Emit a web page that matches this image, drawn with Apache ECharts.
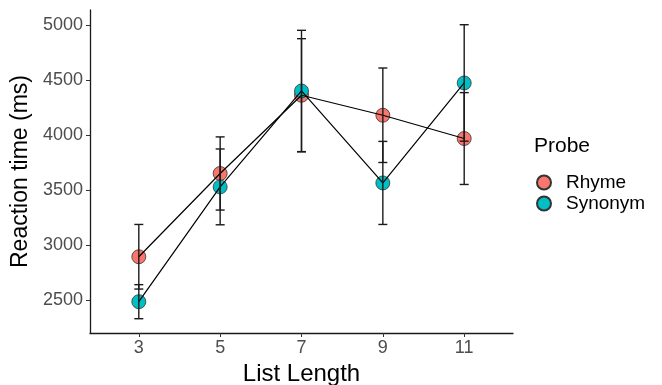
<!DOCTYPE html>
<html>
<head>
<meta charset="utf-8">
<script src="https://cdn.jsdelivr.net/npm/echarts@6/dist/echarts.min.js"></script>
<style>
html,body{margin:0;padding:0;background:#fff;}
#c{width:662px;height:385px;}
</style>
</head>
<body>
<div id="c"></div>
<script>
var listLength = [3, 5, 7, 9, 11];
var yTicks = [2500, 3000, 3500, 4000, 4500, 5000];
var rhymeMean = [2894, 3652, 4364, 4182, 3970];
var rhymeErr = [294, 333, 515, 430, 418];
var synonymMean = [2485, 3530, 4403, 3566, 4476];
var synonymErr = [155, 345, 552, 378, 530];

var FONT = '"Liberation Sans", Arial, sans-serif';
var chart = echarts.init(document.getElementById('c'));

function pts(means) { return listLength.map(function (x, i) { return [x, means[i]]; }); }
function errs(means, e) { return listLength.map(function (x, i) { return [x, means[i] - e[i], means[i] + e[i]]; }); }

function errRender(params, api) {
  var x = api.value(0);
  var lo = api.coord([x, api.value(1)]);
  var hi = api.coord([x, api.value(2)]);
  var hw = 4.5;
  var st = { stroke: '#1a1a1a', lineWidth: 1.4, fill: null };
  return {
    type: 'group',
    children: [
      { type: 'line', shape: { x1: lo[0], y1: lo[1], x2: hi[0], y2: hi[1] }, style: st },
      { type: 'line', shape: { x1: lo[0] - hw, y1: lo[1], x2: lo[0] + hw, y2: lo[1] }, style: st },
      { type: 'line', shape: { x1: hi[0] - hw, y1: hi[1], x2: hi[0] + hw, y2: hi[1] }, style: st }
    ]
  };
}

var option = {
  backgroundColor: '#fff',
  animation: false,
  title: {
    text: 'Probe', left: 534, top: 136, padding: 0,
    textStyle: { fontFamily: FONT, fontSize: 21, fontWeight: 'normal', color: '#000' }
  },
  legend: {
    data: ['Rhyme', 'Synonym'], orient: 'vertical', left: 536, top: 173, padding: 0,
    itemWidth: 14, itemHeight: 14, itemGap: 2, icon: 'circle',
    textStyle: { fontFamily: FONT, fontSize: 19, color: '#000', padding: [0, 0, 0, 10] }
  },
  grid: { left: 90, right: 149, top: 10, bottom: 52, containLabel: false, outerBoundsMode: 'none' },
  xAxis: {
    type: 'value', min: 1.8, max: 12.2,
    name: 'List Length', nameLocation: 'middle', nameGap: 25,
    nameTextStyle: { fontFamily: FONT, fontSize: 24, color: '#000' },
    axisLine: { show: true, lineStyle: { color: '#1a1a1a', width: 1.3 } },
    axisTick: { show: true, length: 4, lineStyle: { color: '#333' }, customValues: listLength },
    axisLabel: { fontFamily: FONT, fontSize: 18, color: '#4d4d4d', margin: 6, customValues: listLength },
    splitLine: { show: false }
  },
  yAxis: {
    type: 'value', min: 2200, max: 5140,
    name: 'Reaction time (ms)', nameLocation: 'middle', nameGap: 55,
    nameTextStyle: { fontFamily: FONT, fontSize: 23, color: '#000' },
    axisLine: { show: true, lineStyle: { color: '#1a1a1a', width: 1.3 } },
    axisTick: { show: true, length: 4, lineStyle: { color: '#333' }, customValues: yTicks },
    axisLabel: { fontFamily: FONT, fontSize: 18, color: '#4d4d4d', margin: 7, customValues: yTicks,
      formatter: function (v) { return String(v); } },
    splitLine: { show: false }
  },
  series: [
    { name: 'Rhyme', type: 'scatter', data: pts(rhymeMean), symbolSize: 14, z: 2,
      itemStyle: { color: '#F8766D', borderColor: '#333', borderWidth: 0.8, opacity: 1 } },
    { name: 'Synonym', type: 'scatter', data: pts(synonymMean), symbolSize: 14, z: 2,
      itemStyle: { color: '#00BFC4', borderColor: '#333', borderWidth: 0.8, opacity: 1 } },
    { name: 'RhymeLine', type: 'line', data: pts(rhymeMean), showSymbol: false, symbol: 'none', z: 3,
      lineStyle: { color: '#000', width: 1.2 } },
    { name: 'SynonymLine', type: 'line', data: pts(synonymMean), showSymbol: false, symbol: 'none', z: 3,
      lineStyle: { color: '#000', width: 1.2 } },
    { name: 'RhymeErr', type: 'custom', data: errs(rhymeMean, rhymeErr), renderItem: errRender, z: 4,
      encode: { x: 0, y: [1, 2] } },
    { name: 'SynonymErr', type: 'custom', data: errs(synonymMean, synonymErr), renderItem: errRender, z: 4,
      encode: { x: 0, y: [1, 2] } }
  ]
};
chart.setOption(option);
</script>
</body>
</html>
